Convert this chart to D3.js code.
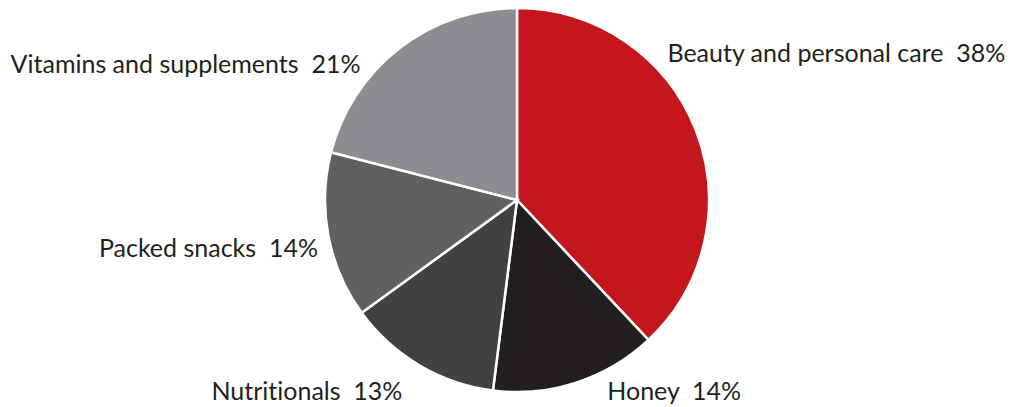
<!DOCTYPE html>
<html>
<head>
<meta charset="utf-8">
<script src="https://cdn.jsdelivr.net/npm/d3@7"></script>
<style>
  body { margin: 0; background: #fff; }
  text { font-family: "Lato", "Open Sans", sans-serif; fill: #231f20; font-variant-ligatures: none; }
</style>
</head>
<body>
<div id="chart"></div>
<script>
// slices, clockwise from 12 o'clock
var categories = ["Beauty and personal care", "Honey", "Nutritionals", "Packed snacks", "Vitamins and supplements"];
var shares = [38, 14, 13, 14, 21];
var colors = ["#c4161c", "#231f20", "#414042", "#606062", "#8c8d90"];

var width = 1010,
    height = 407,
    cx = 517,
    cy = 200,
    radius = 192;

// label placement: offset from the slice centroid on an outer ring, plus anchor
var labelLayout = [
    {dx: -37, dy: -64, anchor: "start"},
    {dx: 28, dy: 8, anchor: "start"},
    {dx: -12, dy: 26, anchor: "end"},
    {dx: -1, dy: 19, anchor: "end"},
    {dx: -33, dy: 32, anchor: "end"}
];

var svg = d3.select("#chart").append("svg")
    .attr("width", width)
    .attr("height", height);

var g = svg.append("g")
    .attr("transform", "translate(" + cx + "," + cy + ")");

var pie = d3.pie().sort(null).value(function(d) { return d; });
var arcs = pie(shares);

var arc = d3.arc().innerRadius(0).outerRadius(radius);
var labelArc = d3.arc().innerRadius(radius * 1.05).outerRadius(radius * 1.05);

g.selectAll("path")
    .data(arcs)
    .enter()
    .append("path")
        .attr("d", arc)
        .style("fill", function(d, i) { return colors[i]; })
        .style("stroke", "#fff")
        .style("stroke-width", 2.5);

g.selectAll("text")
    .data(arcs)
    .enter()
    .append("text")
        .attr("x", function(d, i) { return labelArc.centroid(d)[0] + labelLayout[i].dx; })
        .attr("y", function(d, i) { return labelArc.centroid(d)[1] + labelLayout[i].dy; })
        .attr("text-anchor", function(d, i) { return labelLayout[i].anchor; })
        .style("font-size", "25px")
        .text(function(d, i) { return categories[i] + "  " + shares[i] + "%"; })
        .attr("xml:space", "preserve");
</script>
</body>
</html>
